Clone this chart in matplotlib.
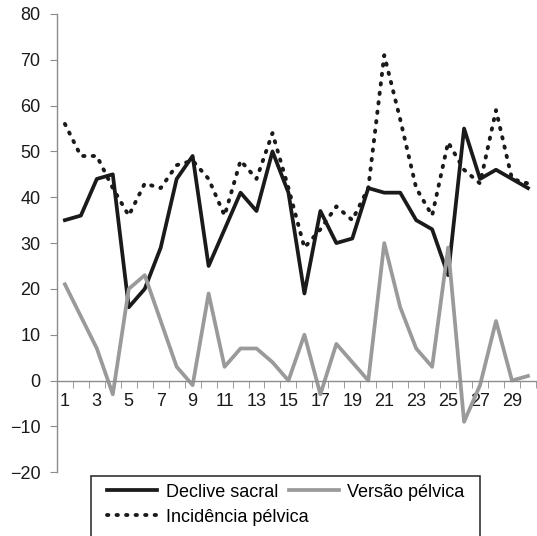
import numpy as np
import matplotlib.pyplot as plt

plt.rcParams['font.family'] = ['Liberation Sans', 'DejaVu Sans']

casos = np.arange(1, 31)
declive_sacral = [35, 36, 44, 45, 16, 20, 29, 44, 49, 25, 33, 41, 37, 50, 41,
                  19, 37, 30, 31, 42, 41, 41, 35, 33, 23, 55, 44, 46, 44, 42]
versao_pelvica = [21, 14, 7, -3, 20, 23, 13, 3, -1, 19, 3, 7, 7, 4, 0,
                  10, -3, 8, 4, 0, 30, 16, 7, 3, 29, -9, -1, 13, 0, 1]
incidencia_pelvica = [56, 49, 49, 42, 36, 43, 42, 47, 48, 44, 36, 48, 44, 54, 42,
                      29, 33, 38, 35, 42, 71, 57, 42, 36, 52, 46, 43, 59, 44, 43]

fig = plt.figure(figsize=(5.37, 5.36), dpi=100)
ax = fig.add_axes([0.106, 0.119, 0.892, 0.855])

l1, = ax.plot(casos, declive_sacral, color='#1a1a1a', lw=2.7, label='Declive sacral')
l2, = ax.plot(casos, versao_pelvica, color='#9a9a9a', lw=2.7, label='Versão pélvica')
l3, = ax.plot(casos, incidencia_pelvica, color='#1a1a1a', lw=2.8,
              linestyle=(0, (0.35, 2.1)), dash_capstyle='round', label='Incidência pélvica')

ax.set_xlim(0.5, 30.5)
ax.set_ylim(-20, 80)
ax.set_yticks(range(-20, 81, 10))

ax.spines['top'].set_visible(False)
ax.spines['right'].set_visible(False)
ax.spines['bottom'].set_position(('data', 0))
for s in ('left', 'bottom'):
    ax.spines[s].set_color('#8c8c8c')
    ax.spines[s].set_linewidth(1.0)

ax.set_xticks(range(1, 30, 2))
ax.set_xticks(np.arange(0.5, 31, 1), minor=True)
ax.tick_params(axis='x', which='major', length=0, pad=9, labelsize=13, colors='#1a1a1a')
ax.tick_params(axis='x', which='minor', length=5, direction='out', color='#8c8c8c')
ax.tick_params(axis='y', length=5, direction='out', color='#8c8c8c', labelsize=13,
               labelcolor='#1a1a1a', pad=7)

# legend laid out row by row like the original (row 2 overlaps column 2)
opts = dict(frameon=False, fontsize=13, handlelength=2.8, handletextpad=0.45,
            columnspacing=0.6, borderpad=0, borderaxespad=0, loc='center left')
leg1 = fig.legend(handles=[l1, l2], ncol=2, bbox_to_anchor=(0.199, 0.082), **opts)
leg2 = fig.legend(handles=[l3], ncol=1, bbox_to_anchor=(0.199, 0.035), **opts)
fig.add_artist(plt.Rectangle((0.1695, -0.01), 0.725, 0.122, transform=fig.transFigure,
                             fill=False, edgecolor='#333333', lw=1.2))

fig.savefig('out.png', dpi=100)
